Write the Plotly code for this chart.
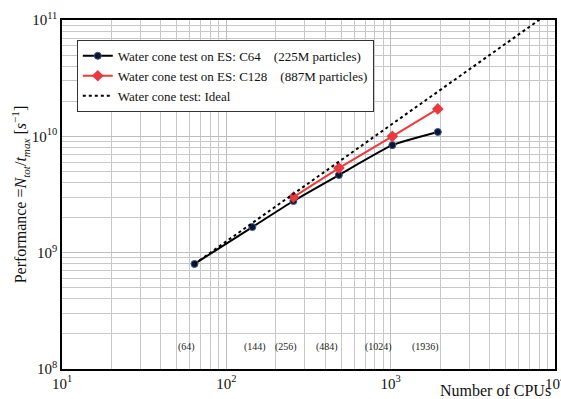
import plotly.graph_objects as go
import numpy as np

cpus_c64 = [64, 144, 256, 484, 1024, 1936]
perf_c64 = [8.0e8, 1.66e9, 2.78e9, 4.65e9, 8.4e9, 1.09e10]
cpus_c128 = [256, 484, 1024, 1936]
perf_c128 = [3.0e9, 5.33e9, 1.0e10, 1.72e10]
cpus_ideal = [64, 10000]
perf_ideal = [8.0e8, 8.0e8 * 10000 / 64]
cpu_labels = ["(64)", "(144)", "(256)", "(484)", "(1024)", "(1936)"]
label_shift = [-8, 3, -7, -12, -14, -12]
x_tickvals = [10, 100, 1000, 10000]
x_ticktext = ["10<sup>1</sup>", "10<sup>2</sup>", "10<sup>3</sup>", "10<sup>4</sup>"]
y_tickvals = [1e8, 1e9, 1e10, 1e11]
y_ticktext = ["10<sup>8</sup>", "10<sup>9</sup>", "10<sup>10</sup>", "10<sup>11</sup>"]

FONT = "Liberation Serif, Times New Roman, serif"
NB = "\u00a0"

fig = go.Figure()
fig.add_trace(go.Scatter(
    x=cpus_c64, y=perf_c64, mode="lines+markers",
    name="Water cone test on ES: C64" + NB * 4 + "(225M particles)",
    line=dict(color="black", width=2, shape="spline", smoothing=0.5),
    marker=dict(symbol="circle", size=7, color="#0b1530", line=dict(color="#3a5a8a", width=1)),
))
fig.add_trace(go.Scatter(
    x=cpus_c128, y=perf_c128, mode="lines+markers",
    name="Water cone test on ES: C128" + NB * 4 + "(887M particles)",
    line=dict(color="#f03a3a", width=2),
    marker=dict(symbol="diamond", size=9, color="#e8393f"),
))
fig.add_trace(go.Scatter(
    x=cpus_ideal, y=perf_ideal, mode="lines",
    name="Water cone test: Ideal",
    line=dict(color="black", width=2, dash="dot"),
))

for c, lab, s in zip(cpus_c64, cpu_labels, label_shift):
    fig.add_annotation(x=np.log10(c), y=0.04, xref="x", yref="paper", text=lab,
                       showarrow=False, xshift=s, font=dict(family=FONT, size=10, color="#222"))

fig.add_annotation(x=0.995, y=-0.062, xref="paper", yref="paper", text="Number of CPUs",
                   showarrow=False, xanchor="right", yanchor="middle",
                   font=dict(family=FONT, size=16, color="#111"))

axis_common = dict(
    type="log", showline=True, mirror=True,
    linecolor="black", linewidth=1.5, ticks="", showgrid=True, gridcolor="#bdbdbd",
    gridwidth=1, zeroline=False, ticklabeloverflow="allow", automargin=False,
    minor=dict(showgrid=True, gridcolor="#c8c8c8", gridwidth=1, dtick="D1", ticks=""),
    tickfont=dict(family=FONT, size=15, color="#111"),
)
fig.update_xaxes(range=[1, 4], tickvals=x_tickvals, ticktext=x_ticktext, **axis_common)
fig.update_yaxes(range=[8, 11], tickvals=y_tickvals, ticktext=y_ticktext, title=dict(
    text="Performance =<i>N<sub>tot</sub></i>/<i>t<sub>max</sub></i> [<i>s</i><sup>−1</sup>]",
    font=dict(family=FONT, size=16, color="#111"), standoff=1), **axis_common)

fig.update_layout(
    width=561, height=399,
    margin=dict(l=62, r=6, t=20, b=30),
    paper_bgcolor="white", plot_bgcolor="white",
    font=dict(family=FONT, color="#111"),
    legend=dict(x=0.03, y=0.943, xanchor="left", yanchor="top", bgcolor="white",
                bordercolor="#333", borderwidth=1, font=dict(family=FONT, size=13),
                tracegroupgap=2, itemwidth=30),
    showlegend=True,
)
fig.write_html("out.html", config={"displayModeBar": False},
               post_script="document.body.style.margin='0';")
